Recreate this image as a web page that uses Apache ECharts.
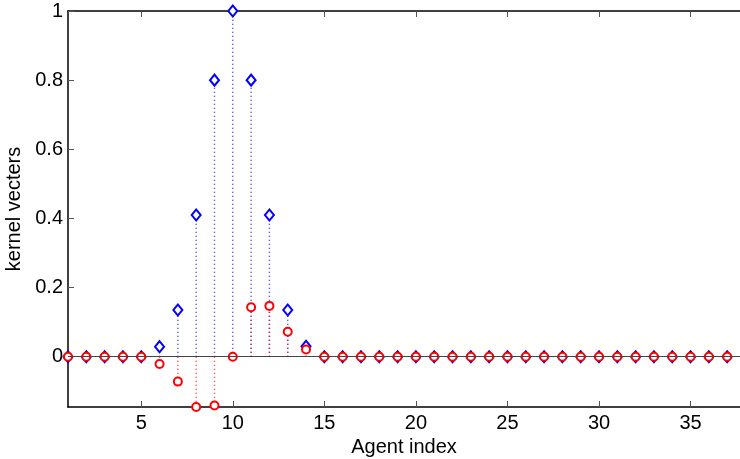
<!DOCTYPE html>
<html>
<head>
<meta charset="utf-8">
<script src="https://cdn.jsdelivr.net/npm/echarts@6/dist/echarts.min.js"></script>
<style>
  html, body { margin: 0; padding: 0; background: #fff; }
  #chart { width: 740px; height: 459px; }
</style>
</head>
<body>
<div id="chart"></div>
<script>
// agent indices 1..37
const agents = [1, 2, 3, 4, 5, 6, 7, 8, 9, 10, 11, 12, 13, 14, 15, 16, 17, 18, 19,
  20, 21, 22, 23, 24, 25, 26, 27, 28, 29, 30, 31, 32, 33, 34, 35, 36, 37]
// blue diamonds
const kernelA = [0, 0, 0, 0, 0, 0.029, 0.135, 0.41, 0.8, 1, 0.8, 0.41, 0.135, 0.03,
  0, 0, 0, 0, 0, 0, 0, 0, 0, 0, 0, 0, 0, 0, 0, 0, 0, 0, 0, 0, 0, 0, 0]
// red circles
const kernelB = [0, 0, 0, 0, 0, -0.021, -0.072, -0.1455, -0.141, 0, 0.143, 0.147, 0.072, 0.021,
  0, 0, 0, 0, 0, 0, 0, 0, 0, 0, 0, 0, 0, 0, 0, 0, 0, 0, 0, 0, 0, 0, 0]
const xTicks = [5, 10, 15, 20, 25, 30, 35]
const yTicks = [0, 0.2, 0.4, 0.6, 0.8, 1]

const FONT = 'Liberation Sans'

function pairs(vals) {
    return agents.map((a, i) => [a, vals[i]])
}

// dotted stem from baseline to value
function stemSeries(vals, color) {
    return {
        type: 'custom',
        silent: true,
        data: pairs(vals),
        renderItem: function(params, api) {
            const p0 = api.coord([api.value(0), 0])
            const p1 = api.coord([api.value(0), api.value(1)])
            return {
                type: 'line',
                shape: { x1: p0[0], y1: p0[1], x2: p1[0], y2: p1[1] },
                style: { stroke: color, lineWidth: 1.5, lineDash: [1, 3], opacity: 0.8 }
            }
        }
    }
}

const chart = echarts.init(document.getElementById('chart'))

const option = {
    animation: false,
    backgroundColor: '#fff',
    textStyle: { fontFamily: FONT },
    grid: { left: 68, right: 0, top: 11, bottom: 52, outerBoundsMode: 'none' },
    xAxis: [{
        type: 'value',
        min: 1,
        max: 37.7,
        name: 'Agent index',
        nameLocation: 'middle',
        nameGap: 26,
        nameTextStyle: { fontFamily: FONT, fontSize: 20, color: '#000' },
        axisLine: { onZero: false, lineStyle: { color: '#000', width: 1.5 } },
        axisTick: { inside: true, length: 6, customValues: xTicks, lineStyle: { color: '#555' } },
        axisLabel: { customValues: xTicks, fontFamily: FONT, fontSize: 20, color: '#000', margin: 6 },
        splitLine: { show: false }
    }, {
        type: 'value',
        position: 'top',
        min: 1,
        max: 37.7,
        axisLine: { onZero: false, lineStyle: { color: '#000', width: 1.5 } },
        axisTick: { inside: true, length: 6, customValues: xTicks, lineStyle: { color: '#555' } },
        axisLabel: { show: false },
        splitLine: { show: false }
    }],
    yAxis: {
        type: 'value',
        min: -0.1455,
        max: 1,
        name: 'kernel vecters',
        nameLocation: 'middle',
        nameGap: 43,
        nameTextStyle: { fontFamily: FONT, fontSize: 20, color: '#000' },
        axisLine: { show: true, onZero: false, lineStyle: { color: '#000', width: 1.5 } },
        axisTick: { show: true, inside: true, length: 6, customValues: yTicks, lineStyle: { color: '#555' } },
        axisLabel: { customValues: yTicks, fontFamily: FONT, fontSize: 20, color: '#000', margin: 5 },
        splitLine: { show: false }
    },
    series: [
        stemSeries(kernelA, '#0000ff'),
        stemSeries(kernelB, '#ff0000'),
        {
            type: 'line',
            data: [],
            markLine: {
                silent: true,
                symbol: 'none',
                label: { show: false },
                lineStyle: { color: '#444', width: 1, type: 'solid' },
                data: [{ yAxis: 0 }]
            }
        },
        {
            type: 'scatter',
            data: pairs(kernelA),
            symbol: 'emptyDiamond',
            symbolSize: [9, 11],
            itemStyle: { color: '#0000ff', borderColor: '#0000ff', borderWidth: 3, opacity: 1 }
        },
        {
            type: 'scatter',
            data: pairs(kernelB),
            symbol: 'emptyCircle',
            symbolSize: 8,
            itemStyle: { color: '#ff0000', borderColor: '#ff0000', borderWidth: 3, opacity: 1 }
        }
    ]
}

chart.setOption(option)
</script>
</body>
</html>
